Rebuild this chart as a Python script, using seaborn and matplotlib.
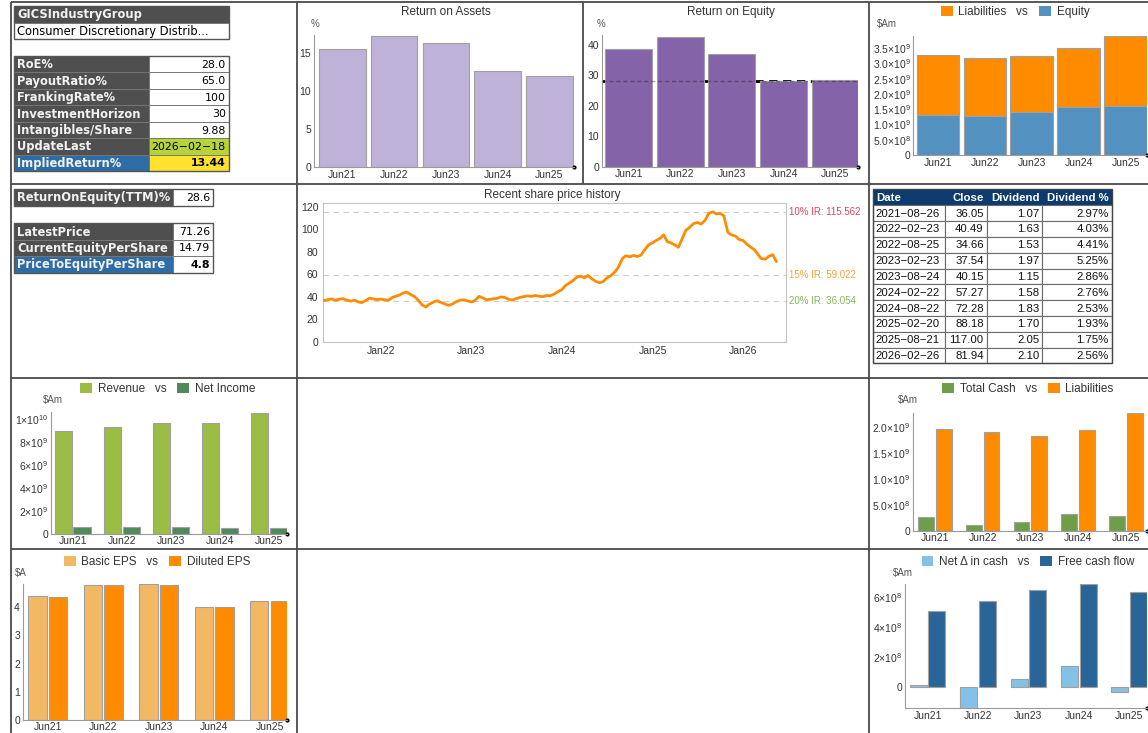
import numpy as np
import pandas as pd
import matplotlib
matplotlib.use("Agg")
import matplotlib.pyplot as plt
import seaborn as sns
from matplotlib.patches import Rectangle, Patch
from matplotlib.ticker import MultipleLocator, FixedLocator, FuncFormatter
import matplotlib.dates as mdates
import matplotlib.transforms as mtrans

# ---------------- data ----------------
years = ['Jun21', 'Jun22', 'Jun23', 'Jun24', 'Jun25']
roa = [15.5, 17.2, 16.2, 12.6, 11.9]
roe = [38.7, 42.7, 37.1, 28.1, 28.6]
roe_target = 28.0
liabilities = [1.97e9, 1.90e9, 1.83e9, 1.94e9, 2.28e9]
equity = [1.31e9, 1.29e9, 1.42e9, 1.56e9, 1.62e9]
revenue = [8.93e9, 9.25e9, 9.65e9, 9.60e9, 10.55e9]
net_income = [0.55e9, 0.61e9, 0.58e9, 0.50e9, 0.52e9]
total_cash = [0.257e9, 0.115e9, 0.173e9, 0.314e9, 0.282e9]
basic_eps = [4.40, 4.81, 4.82, 4.02, 4.24]
diluted_eps = [4.38, 4.79, 4.80, 4.01, 4.23]
net_change_cash = [0.13e8, -1.45e8, 0.55e8, 1.42e8, -0.33e8]
free_cash_flow = [5.07e8, 5.75e8, 6.49e8, 6.84e8, 6.36e8]

# share price, read twice a month (1st and 15th) from 2021-05-15
price_start = '2021-05-15'
price_2021 = [36.8, 37.5, 38.2, 37.0, 37.9, 38.4, 37.2, 36.3, 37.1, 35.6, 34.9, 36.8, 38.9, 38.2, 37.6]
price_2022 = [38.0, 37.5, 37.0, 39.5, 40.5, 41.5, 43.5, 44.2, 42.0, 40.5, 37.0, 33.0,
              31.0, 33.5, 35.5, 36.5, 35.0, 33.8, 32.5, 33.5, 35.8, 37.0, 37.4, 36.5]
price_2023 = [35.5, 36.8, 40.5, 39.2, 37.5, 37.8, 38.3, 38.8, 40.0, 39.5, 37.8, 37.2,
              38.5, 39.5, 40.3, 40.8, 40.5, 41.2, 40.6, 40.2, 41.3, 41.0, 42.5, 44.5]
price_2024 = [46.5, 50.0, 52.5, 54.5, 57.5, 58.5, 57.0, 59.0, 56.0, 54.0, 52.5, 53.5,
              57.0, 58.5, 62.0, 66.0, 74.0, 76.5, 75.5, 76.8, 75.8, 77.0, 82.0, 86.0]
price_2025 = [88.0, 90.0, 92.0, 95.0, 89.0, 88.0, 86.0, 84.0, 92.0, 99.0, 102.0, 105.0,
              106.0, 104.5, 108.0, 114.0, 115.5, 113.5, 114.0, 112.0, 97.0, 95.0, 94.0, 91.0]
price_2026 = [90.0, 87.0, 84.0, 82.0, 78.0, 74.0, 73.5, 76.0, 77.5, 71.3]

ir_labels = ['10% IR', '15% IR', '20% IR']
ir_values = [115.562, 59.022, 36.054]
ir_colors = ['#D9465F', '#F7A23C', '#86B25A']

gics_label = 'GICSIndustryGroup'
gics_value = 'Consumer Discretionary Distrib...'
kv_labels = ['RoE%', 'PayoutRatio%', 'FrankingRate%', 'InvestmentHorizon',
             'Intangibles/Share', 'UpdateLast', 'ImpliedReturn%']
kv_values = ['28.0', '65.0', '100', '30', '9.88', '2026-02-18', '13.44']
roe_ttm_label = 'ReturnOnEquity(TTM)%'
roe_ttm_value = '28.6'
px_labels = ['LatestPrice', 'CurrentEquityPerShare', 'PriceToEquityPerShare']
px_values = ['71.26', '14.79', '4.8']

div_header = ['Date', 'Close', 'Dividend', 'Dividend %']
div_dates = ['2021-08-26', '2022-02-23', '2022-08-25', '2023-02-23', '2023-08-24',
             '2024-02-22', '2024-08-22', '2025-02-20', '2025-08-21', '2026-02-26']
div_close = [36.05, 40.49, 34.66, 37.54, 40.15, 57.27, 72.28, 88.18, 117.00, 81.94]
div_amount = [1.07, 1.63, 1.53, 1.97, 1.15, 1.58, 1.83, 1.70, 2.05, 2.10]
div_pct = ['2.97%', '4.03%', '4.41%', '5.25%', '2.86%', '2.76%', '2.53%', '1.93%', '1.75%', '2.56%']

# ---------------- style ----------------
sns.set_style('white')
plt.rcParams['font.family'] = ['Liberation Sans', 'DejaVu Sans']
plt.rcParams['mathtext.default'] = 'regular'

W, H = 1148, 733
fig = plt.figure(figsize=(W / 100, H / 100), dpi=100)
fig.patch.set_facecolor('white')

bg = fig.add_axes([0, 0, 1, 1], zorder=-5)
bg.set_xlim(0, W)
bg.set_ylim(H, 0)
bg.axis('off')


def box(l, t, r, b):
    return [l / W, 1 - b / H, (r - l) / W, (b - t) / H]


TICKC = '#333333'
EDGE = '#a0a0a0'


def sci_fmt(dec):
    def f(v, pos):
        if abs(v) < 1e-3:
            return '0'
        e = int(np.floor(np.log10(abs(v)) + 1e-9))
        m = v / 10 ** e
        return f'{m:.{dec}f}\u00d710$^{{{e}}}$'
    return FuncFormatter(f)


def style_bar_axes(ax, xlim, ylim, major, minor, fmt=None):
    ax.set_xlim(*xlim)
    ax.set_ylim(*ylim)
    ax.set_facecolor('none')
    for s in ['top', 'right']:
        ax.spines[s].set_visible(False)
    for s in ['left', 'bottom']:
        ax.spines[s].set_color('#9a9a9a')
        ax.spines[s].set_linewidth(0.8)
    ax.yaxis.set_major_locator(MultipleLocator(major))
    ax.yaxis.set_minor_locator(MultipleLocator(minor))
    if fmt is not None:
        ax.yaxis.set_major_formatter(fmt)
    ax.tick_params(axis='y', which='major', direction='in', length=4, width=0.7,
                   color='#8a8a8a', labelsize=7.5, labelcolor=TICKC, pad=2)
    ax.tick_params(axis='y', which='minor', direction='in', length=2, width=0.5, color='#aaaaaa')
    ax.xaxis.set_minor_locator(FixedLocator(np.arange(len(years) + 1) - 0.5))
    ax.tick_params(axis='x', which='major', length=0, labelsize=7.5, labelcolor=TICKC, pad=2)
    ax.tick_params(axis='x', which='minor', direction='out', length=4, width=0.6, color='#aaaaaa')
    ax.set_xlabel('')
    ax.set_ylabel('')
    ax.plot([1], [0], 'o', ms=2, color='black', transform=ax.transAxes, clip_on=False)


def legend2(ax, c1, l1, c2, l2, cx, cy):
    handles = [Patch(facecolor=c1, edgecolor='none'), Patch(facecolor=c2, edgecolor='none')]
    ax.legend(handles, [l1 + '   vs', l2], loc='center', ncol=2, frameon=False,
              bbox_to_anchor=(cx / W, 1 - cy / H), bbox_transform=fig.transFigure,
              fontsize=8.5, handlelength=1.0, handleheight=1.0, handletextpad=0.5,
              columnspacing=0.9, borderpad=0, labelcolor=TICKC)


def ftext(x, y, s, **kw):
    kw.setdefault('color', TICKC)
    kw.setdefault('fontsize', 7.5)
    bg.text(x, y, s, **kw)


def single_bars(ax, vals, color, width):
    sns.barplot(x=years, y=vals, color=color, saturation=1, width=width, errorbar=None,
                edgecolor=EDGE, linewidth=0.8, ax=ax)


def grouped_bars(ax, v1, v2, n1, n2, c1, c2, width, gap):
    df = pd.DataFrame({'year': years * 2, 'series': [n1] * len(years) + [n2] * len(years),
                       'value': list(v1) + list(v2)})
    sns.barplot(data=df, x='year', y='value', hue='series', palette=[c1, c2], saturation=1,
                width=width, gap=gap, errorbar=None, edgecolor=EDGE, linewidth=0.8,
                legend=False, ax=ax)


# ---------------- cell borders ----------------
LC = '#4a4a4a'
for y in [2, 183.5, 378, 549]:
    bg.plot([11, W], [y, y], color=LC, lw=1.3, solid_capstyle='butt')
for x in [11, 296.5, 869]:
    bg.plot([x, x], [2, H], color=LC, lw=1.3, solid_capstyle='butt')
bg.plot([582.7, 582.7], [2, 183.5], color=LC, lw=1.3, solid_capstyle='butt')

# ---------------- tables ----------------
DARK = '#4f4f4f'
BLUE = '#2e6ca5'
GREEN = '#b6d337'
YELLOW = '#ffe12e'
TF = 'DejaVu Sans'


def rect(x0, y0, x1, y1, fc, ec='#6e6e6e', lw=0.7):
    bg.add_patch(Rectangle((x0, y0), x1 - x0, y1 - y0, facecolor=fc, edgecolor=ec, linewidth=lw))


def kv_table(labels, values, x0, xd, x1, y0, rh, label_fc, value_fc, bold_last=False):
    for i, (lab, val) in enumerate(zip(labels, values)):
        ya = y0 + i * rh
        rect(x0, ya, xd, ya + rh, label_fc[i], ec='#767676')
        rect(xd, ya, x1, ya + rh, value_fc[i], ec='#767676')
        bg.text(x0 + 3, ya + rh / 2 + 0.5, lab, color='#f2f2f2', fontsize=8.3, fontweight='bold',
                family=TF, va='center', ha='left')
        bold = bold_last and i == len(labels) - 1
        bg.text(x1 - 3, ya + rh / 2 + 0.5, val.replace('-', '\u2212'), color='black', fontsize=7.9,
                fontweight='bold' if bold else 'normal', family=TF, va='center', ha='right')
    rect(x0, y0, x1, y0 + rh * len(labels), 'none', ec='#555555', lw=1.0)


# GICS table
rect(14, 6, 228.7, 22.7, DARK, ec='#767676')
bg.text(17, 14.8, gics_label, color='#f2f2f2', fontsize=8.3, fontweight='bold', family=TF, va='center')
rect(14, 22.7, 228.7, 39.3, 'white', ec='#767676')
bg.text(17, 31.3, gics_value, color='black', fontsize=8.3, family=TF, va='center')
rect(14, 6, 228.7, 39.3, 'none', ec='#555555', lw=1.0)

kv_table(kv_labels, kv_values, 14, 149, 228.7, 56, 16.45,
         [DARK] * 6 + [BLUE], ['white'] * 5 + [GREEN, YELLOW], bold_last=True)

kv_table([roe_ttm_label], [roe_ttm_value], 14, 172.7, 213, 189, 17, [DARK], ['white'])
kv_table(px_labels, px_values, 14, 172.7, 213, 223.3, 16.45, [DARK, DARK, BLUE],
         ['white'] * 3, bold_last=True)

# dividend table
cols = [873.3, 945, 986.7, 1042.3, 1111.7]
ty0, thb, trh = 189.3, 205.3, 15.8
NAVY = '#0d3b6e'
rect(cols[0], ty0, cols[-1], thb, NAVY, ec=NAVY)
bg.text(cols[0] + 3, (ty0 + thb) / 2 + 0.5, div_header[0], color='white', fontweight='bold',
        fontsize=8.2, va='center', ha='left')
for j in range(1, 4):
    bg.text(cols[j + 1] - 3, (ty0 + thb) / 2 + 0.5, div_header[j], color='white', fontweight='bold',
            fontsize=8.2, va='center', ha='right')
for i in range(len(div_dates)):
    ya = thb + i * trh
    for j in range(4):
        rect(cols[j], ya, cols[j + 1], ya + trh, 'white', ec='#6a6a6a', lw=0.8)
    yc = ya + trh / 2 + 0.5
    bg.text(cols[0] + 2, yc, div_dates[i].replace('-', '\u2212'), fontsize=8.2, va='center', ha='left', color='#111111')
    bg.text(cols[2] - 3, yc, f'{div_close[i]:.2f}', fontsize=8.2, va='center', ha='right', color='#111111')
    bg.text(cols[3] - 3, yc, f'{div_amount[i]:.2f}', fontsize=8.2, va='center', ha='right', color='#111111')
    bg.text(cols[4] - 3, yc, div_pct[i], fontsize=8.2, va='center', ha='right', color='#111111')
rect(cols[0], ty0, cols[-1], thb + trh * len(div_dates), 'none', ec='#444444', lw=1.0)

# ---------------- Return on Assets ----------------
ax = fig.add_axes(box(314, 35, 574.3, 167.3))
single_bars(ax, roa, '#beb2d9', 0.9)
style_bar_axes(ax, (-0.55, 4.48), (0, 17.3), 5, 1)
ftext(445.7, 12, 'Return on Assets', fontsize=8.5, ha='center', va='center')
ftext(315, 24, '%', fontsize=7, ha='center', va='center', color='#555555')

# ---------------- Return on Equity ----------------
ax = fig.add_axes(box(601.7, 35, 858.3, 166.7))
single_bars(ax, roe, '#8563a9', 0.91)
ax.axhline(roe_target, color='black', lw=2.0, ls=(0, (3, 2)), zorder=0.5)
ax.axhline(roe_target, color='black', lw=1.0, ls=(0, (3, 2)), alpha=0.3, zorder=3)
style_bar_axes(ax, (-0.52, 4.445), (0, 43.2), 10, 2)
ftext(730.7, 12, 'Return on Equity', fontsize=8.5, ha='center', va='center')
ftext(601, 24, '%', fontsize=7, ha='center', va='center', color='#555555')

# ---------------- Liabilities vs Equity (stacked) ----------------
ax = fig.add_axes(box(913.3, 36, 1146.7, 155))
stack_total = [e + l for e, l in zip(equity, liabilities)]
single_bars(ax, stack_total, '#ff8c00', 0.91)
single_bars(ax, equity, '#5391c1', 0.91)
style_bar_axes(ax, (-0.527, 4.45), (0, 3.9e9), 0.5e9, 0.1e9, sci_fmt(1))
legend2(ax, '#ff8c00', 'Liabilities', '#5391c1', 'Equity', 1015, 12)
ftext(887, 24, '$Am', fontsize=7, ha='center', va='center', color='#555555')

# ---------------- Share price history ----------------
ax = fig.add_axes(box(322.5, 203.3, 785.7, 342))
prices = price_2021 + price_2022 + price_2023 + price_2024 + price_2025 + price_2026
dates = pd.date_range(price_start, periods=len(prices), freq='SMS')
for v in ir_values:
    ax.axhline(v, color='#cfcfcf', lw=0.8, ls=(0, (5, 4)), zorder=1)
sns.lineplot(x=dates, y=prices, color='#ff8c00', lw=2.0, ax=ax, zorder=3)
ax.set_xlim(pd.Timestamp('2021-05-10'), pd.Timestamp('2026-06-22'))
ax.set_ylim(0, 123)
ax.set_xlabel('')
ax.set_ylabel('')
for s in ax.spines.values():
    s.set_color('#c4c4c4')
    s.set_linewidth(0.8)
ax.yaxis.set_major_locator(MultipleLocator(20))
ax.yaxis.set_minor_locator(MultipleLocator(5))
ax.xaxis.set_major_locator(mdates.YearLocator(month=1, day=1))
ax.xaxis.set_major_formatter(mdates.DateFormatter('Jan%y'))
ax.xaxis.set_minor_locator(mdates.MonthLocator(bymonth=[3, 5, 7, 9, 11]))
ax.tick_params(which='major', direction='in', length=4, width=0.7, color='#888888',
               labelsize=7.5, labelcolor=TICKC, pad=3)
ax.tick_params(which='minor', direction='in', length=2, width=0.5, color='#aaaaaa')
ax.tick_params(axis='y', which='both', right=False)
ax.set_facecolor('none')
blend = mtrans.blended_transform_factory(ax.transAxes, ax.transData)
for lab, v, c in zip(ir_labels, ir_values, ir_colors):
    ax.text(1.008, v, f'{lab}: {v:.3f}', transform=blend, color=c, fontsize=7,
            va='center', ha='left')
ftext(552, 195, 'Recent share price history', fontsize=8.5, ha='center', va='center')

# ---------------- Revenue vs Net Income ----------------
ax = fig.add_axes(box(51, 412, 287.3, 533.7))
grouped_bars(ax, revenue, net_income, 'Revenue', 'Net Income', '#9bbc45', '#4f8a5b', 0.755, 0.07)
style_bar_axes(ax, (-0.445, 4.37), (0, 10.6e9), 2e9, 0.4e9, sci_fmt(0))
legend2(ax, '#9bbc45', 'Revenue', '#4f8a5b', 'Net Income', 168, 389)
ftext(53, 400, '$Am', fontsize=7, ha='center', va='center', color='#555555')

# ---------------- Total Cash vs Liabilities ----------------
ax = fig.add_axes(box(912.7, 412.7, 1146.7, 530.7))
grouped_bars(ax, total_cash, liabilities, 'Total Cash', 'Liabilities', '#6f9e4b', '#ff8c00', 0.742, 0.1)
style_bar_axes(ax, (-0.467, 4.44), (0, 2.28e9), 0.5e9, 0.1e9, sci_fmt(1))
legend2(ax, '#6f9e4b', 'Total Cash', '#ff8c00', 'Liabilities', 1028, 389)
ftext(908, 400, '$Am', fontsize=7, ha='center', va='center', color='#555555')

# ---------------- EPS ----------------
ax = fig.add_axes(box(22.7, 584, 287.3, 719.7))
grouped_bars(ax, basic_eps, diluted_eps, 'Basic EPS', 'Diluted EPS', '#f3b863', '#ff8c00', 0.74, 0.11)
style_bar_axes(ax, (-0.453, 4.32), (0, 4.83), 1, 0.2)
legend2(ax, '#f3b863', 'Basic EPS', '#ff8c00', 'Diluted EPS', 157, 562)
ftext(21, 573, '$A', fontsize=7, ha='center', va='center', color='#555555')

# ---------------- Cash flow ----------------
ax = fig.add_axes(box(905, 584, 1146.7, 708))
grouped_bars(ax, net_change_cash, free_cash_flow, 'Net \u0394 in cash', 'Free cash flow',
             '#84c1e7', '#2a6597', 0.74, 0.09)
style_bar_axes(ax, (-0.45, 4.35), (-1.4e8, 6.87e8), 2e8, 0.4e8, sci_fmt(0))
legend2(ax, '#84c1e7', 'Net \u0394 in cash', '#2a6597', 'Free cash flow', 1028, 562)
ftext(903, 573, '$Am', fontsize=7, ha='center', va='center', color='#555555')

fig.savefig('out.png', dpi=100, facecolor='white')
